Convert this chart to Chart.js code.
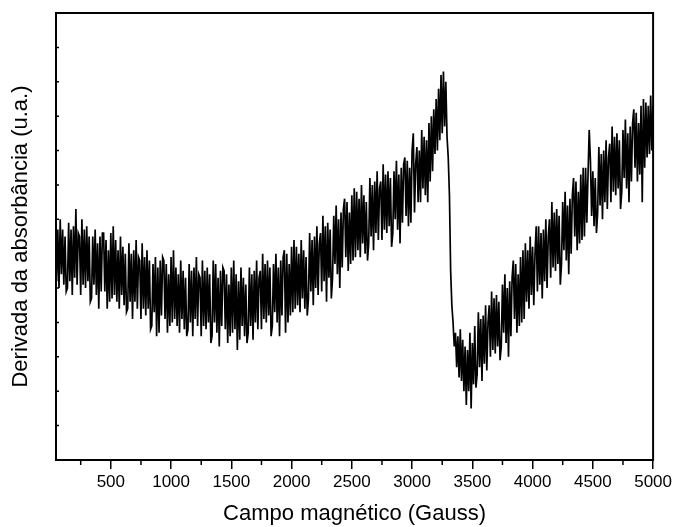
<!DOCTYPE html>
<html><head><meta charset="utf-8">
<script src="https://cdn.jsdelivr.net/npm/chart.js@4"></script>
<style>html,body{margin:0;padding:0;background:#fff}</style>
</head><body>
<canvas id="c" width="675" height="527"></canvas>
<script>
// Field sweep grid (Gauss)
const fieldStart = 40;
const fieldStep = 10;

// EPR derivative signal (arbitrary units), one value per 10 G
const signal = [
6.9,5.2,6.7,5.0,7.0,5.4,6.7,5.1,6.5,4.9,
5.0,6.9,5.2,6.7,4.8,6.8,5.3,7.3,5.1,6.6,
6.5,4.8,7.0,5.1,6.7,5.0,6.8,5.2,6.5,4.6,
4.7,6.5,5.1,6.7,4.8,6.3,4.4,6.5,4.9,6.6,
6.6,4.9,6.4,4.4,6.1,4.6,6.6,4.7,6.8,4.8,
6.4,4.6,6.1,4.4,6.5,4.8,6.2,4.5,6.0,4.3,
4.4,6.3,4.6,6.0,4.1,6.1,4.6,6.4,4.4,5.9,
5.8,4.1,6.3,4.4,5.9,4.2,6.1,4.4,5.8,3.8,
3.9,5.7,4.3,5.9,3.6,5.6,3.7,5.8,4.2,5.9,
5.8,4.1,5.7,3.7,5.4,3.9,5.9,4.0,6.1,4.1,
5.6,3.9,5.4,3.7,5.8,4.1,5.5,3.8,5.3,3.6,
3.8,5.7,4.0,5.5,3.6,5.6,4.1,5.9,3.9,5.4,
5.3,3.6,5.8,3.9,5.5,3.8,5.6,4.0,5.4,3.4,
3.6,5.8,4.0,5.7,3.7,5.3,3.3,5.5,3.9,5.6,
5.5,3.8,5.4,3.4,5.1,3.6,5.6,3.7,5.8,3.8,
5.4,3.2,5.2,3.5,5.6,3.9,5.3,3.6,5.1,3.4,
3.7,5.6,3.9,5.4,3.5,5.5,4.0,5.8,3.8,5.3,
5.5,3.8,6.0,4.1,5.7,4.0,5.8,4.2,5.6,3.6,
3.9,5.7,4.3,6.0,4.0,5.6,3.6,5.8,4.2,5.9,
6.1,3.7,6.0,4.0,5.7,4.2,6.2,4.3,6.4,4.4,
6.2,4.5,6.0,4.3,6.4,4.7,6.1,4.4,5.9,4.2,
4.7,6.6,4.9,6.4,4.5,6.5,5.0,6.8,4.8,6.3,
6.6,4.9,7.1,5.2,6.8,4.6,6.9,5.3,6.7,4.7,
5.3,7.1,5.7,7.4,5.4,7.0,5.0,7.2,5.6,7.3,
7.6,5.9,7.5,5.5,7.2,5.7,7.7,5.8,7.9,5.9,
7.8,6.1,7.6,5.9,8.0,6.3,7.7,6.0,7.5,5.8,
6.3,8.2,6.5,8.0,6.1,8.1,6.6,8.4,6.4,7.9,
8.1,6.4,8.6,6.7,8.3,6.6,8.4,6.8,8.2,6.2,
6.6,8.4,7.0,8.7,6.7,8.3,6.3,8.5,6.9,8.6,
8.8,7.1,8.7,6.8,8.5,6.9,9.0,9.5,7.2,8.6,
9.1,7.5,9.0,7.5,9.6,7.9,9.4,7.7,9.3,7.5,
9.8,8.1,10.0,8.4,10.2,8.9,10.5,9.0,10.8,9.3,
11.2,9.5,11.3,9.7,11.0,9.4,8.8,7.7,5.5,4.5,
4.0,3.3,3.7,2.7,3.6,2.4,3.8,2.3,3.5,2.0,
3.3,1.6,3.2,2.0,3.7,1.5,3.4,2.2,3.9,2.1,
2.5,4.3,2.7,4.1,2.3,4.2,2.8,4.5,2.6,4.0,
4.5,3.0,4.9,3.2,4.7,3.1,4.8,3.3,4.6,2.9,
3.3,5.1,3.7,5.4,3.4,5.0,3.0,5.2,3.6,5.3,
5.8,4.1,5.7,3.7,5.4,3.9,5.9,4.0,6.1,4.1,
6.3,4.6,6.1,4.4,6.5,4.8,6.2,4.5,6.0,6.8,
4.9,6.8,5.1,6.6,4.7,6.7,5.2,7.0,5.0,6.5,
7.0,5.3,7.5,5.6,7.2,5.5,7.3,5.7,7.1,5.1,
5.7,7.5,6.1,7.8,5.8,7.4,5.4,7.6,6.0,7.7,
8.2,6.5,8.1,6.1,7.8,6.3,8.3,6.4,8.5,6.5,
8.5,6.9,8.3,9.6,8.7,7.1,8.4,6.8,8.2,6.6,
7.2,9.1,7.4,8.9,7.0,9.0,7.5,9.3,7.3,8.8,
9.2,7.5,9.7,7.8,9.4,7.7,9.5,7.9,9.3,7.3,
7.8,9.6,8.2,9.9,7.9,9.5,7.5,9.7,8.1,9.8,
10.2,8.5,10.1,8.1,9.8,8.3,10.3,7.5,10.5,8.5,
10.4,8.8,10.3,8.9,10.6,9.0,10.3
];

const xTickValues = [500,1000,1500,2000,2500,3000,3500,4000,4500,5000];
const xMinorTickValues = [250,750,1250,1750,2250,2750,3250,3750,4250,4750];
const yTickValues = [0,1,2,3,4,5,6,7,8,9,10,11,12,13];
const xRange = [45, 5000];
const yRange = [0, 13];
const xTitle = 'Campo magnético (Gauss)';
const yTitle = 'Derivada da absorbância (u.a.)';

const points = signal.map((v, i) => ({x: fieldStart + i * fieldStep, y: v}));

const framePlugin = {
  id: 'frame',
  afterDraw(chart) {
    const {ctx, chartArea: a, scales: {x, y}} = chart;
    ctx.save();
    ctx.strokeStyle = '#000';
    ctx.lineWidth = 1.5;
    ctx.beginPath();
    xMinorTickValues.forEach(v => {
      const px = x.getPixelForValue(v);
      ctx.moveTo(px, a.bottom); ctx.lineTo(px, a.bottom + 5);
    });
    yTickValues.forEach(v => {
      const py = y.getPixelForValue(v);
      ctx.moveTo(a.left, py); ctx.lineTo(a.left + 3, py);
    });
    ctx.stroke();
    ctx.lineWidth = 2;
    ctx.strokeRect(a.left, a.top, a.right - a.left, a.bottom - a.top);
    ctx.restore();
  }
};

new Chart(document.getElementById('c'), {
  type: 'line',
  data: {
    datasets: [{
      data: points,
      borderColor: '#000',
      borderWidth: 1.7,
      pointRadius: 0,
      tension: 0,
      fill: false
    }]
  },
  options: {
    responsive: false,
    animation: false,
    devicePixelRatio: 1,
    layout: {padding: {top: 13, right: 21, left: 0, bottom: 0}},
    plugins: {legend: {display: false}, tooltip: {enabled: false}},
    scales: {
      x: {
        type: 'linear',
        min: xRange[0], max: xRange[1],
        afterBuildTicks: s => { s.ticks = xTickValues.map(v => ({value: v})); },
        afterFit: s => { s.height = 67; },
        grid: {display: true, drawOnChartArea: false, drawTicks: true, tickLength: 9, color: '#000', lineWidth: 1.5},
        border: {display: true, color: '#000', width: 2},
        ticks: {color: '#000', font: {family: 'Liberation Sans, Arial, sans-serif', size: 17}, padding: 3, maxRotation: 0, autoSkip: false,
                callback: v => String(v)},
        title: {display: true, text: xTitle, color: '#000', font: {family: 'Liberation Sans, Arial, sans-serif', size: 22}, padding: {top: 0, bottom: 0}}
      },
      y: {
        type: 'linear',
        min: yRange[0], max: yRange[1],
        afterBuildTicks: s => { s.ticks = yTickValues.map(v => ({value: v})); },
        afterFit: s => { s.width = 56; },
        grid: {display: false},
        border: {display: true, color: '#000', width: 2},
        ticks: {display: false},
        title: {display: true, text: yTitle, color: '#000', font: {family: 'Liberation Sans, Arial, sans-serif', size: 22}, padding: {top: 8, bottom: 0}}
      }
    }
  },
  plugins: [framePlugin]
});
</script>
</body></html>
